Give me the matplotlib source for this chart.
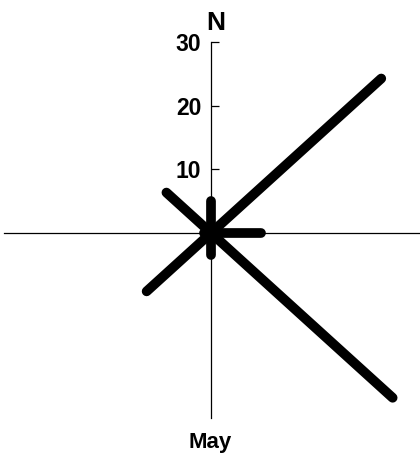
import numpy as np
import matplotlib
matplotlib.use('Agg')
import matplotlib.pyplot as plt

# wind rose arms (direction, length)
directions = ['N', 'NE', 'E', 'SE', 'S', 'SW', 'W', 'NW']
angles = [0, 45, 90, 135, 180, 225, 270, 315]
lengths = [5.0, 34.4, 7.1, 36.7, 3.5, 13.0, 1.0, 9.0]
yticks = [10, 20, 30]
month = 'May'

plt.rcParams['font.family'] = ['Liberation Sans', 'DejaVu Sans']
plt.rcParams['font.weight'] = 'bold'

fig = plt.figure(figsize=(4.2, 4.53), dpi=100)
ax = fig.add_axes([0, 0, 1, 1])
ax.set_xlim(-30.14, 29.86)
ax.set_ylim(-34.65, 36.69)

# axes through origin
for s in ['top', 'right']:
    ax.spines[s].set_visible(False)
ax.spines['left'].set_position(('data', 0))
ax.spines['bottom'].set_position(('data', 0))
ax.spines['left'].set_bounds(-29.1, 30)
ax.spines['bottom'].set_bounds(-29.6, 29.86)
for s in ['left', 'bottom']:
    ax.spines[s].set_linewidth(0.9)
ax.set_xticks([])
ax.set_yticks(yticks)
ax.tick_params(axis='y', direction='in', length=6, width=0.9, pad=7, labelsize=16.5)

# arms
for a, l in zip(angles, lengths):
    r = np.deg2rad(a)
    ax.plot([0, l*np.sin(r)], [0, l*np.cos(r)], color='black', lw=7, solid_capstyle='round')
ax.scatter([0], [0], s=120, color='black', zorder=3)

ax.text(0.64, 31.97, 'N', ha='center', va='baseline', fontsize=19)
ax.text(-0.07, -33.9, month, ha='center', va='baseline', fontsize=16)

fig.savefig('out.png', dpi=100)
